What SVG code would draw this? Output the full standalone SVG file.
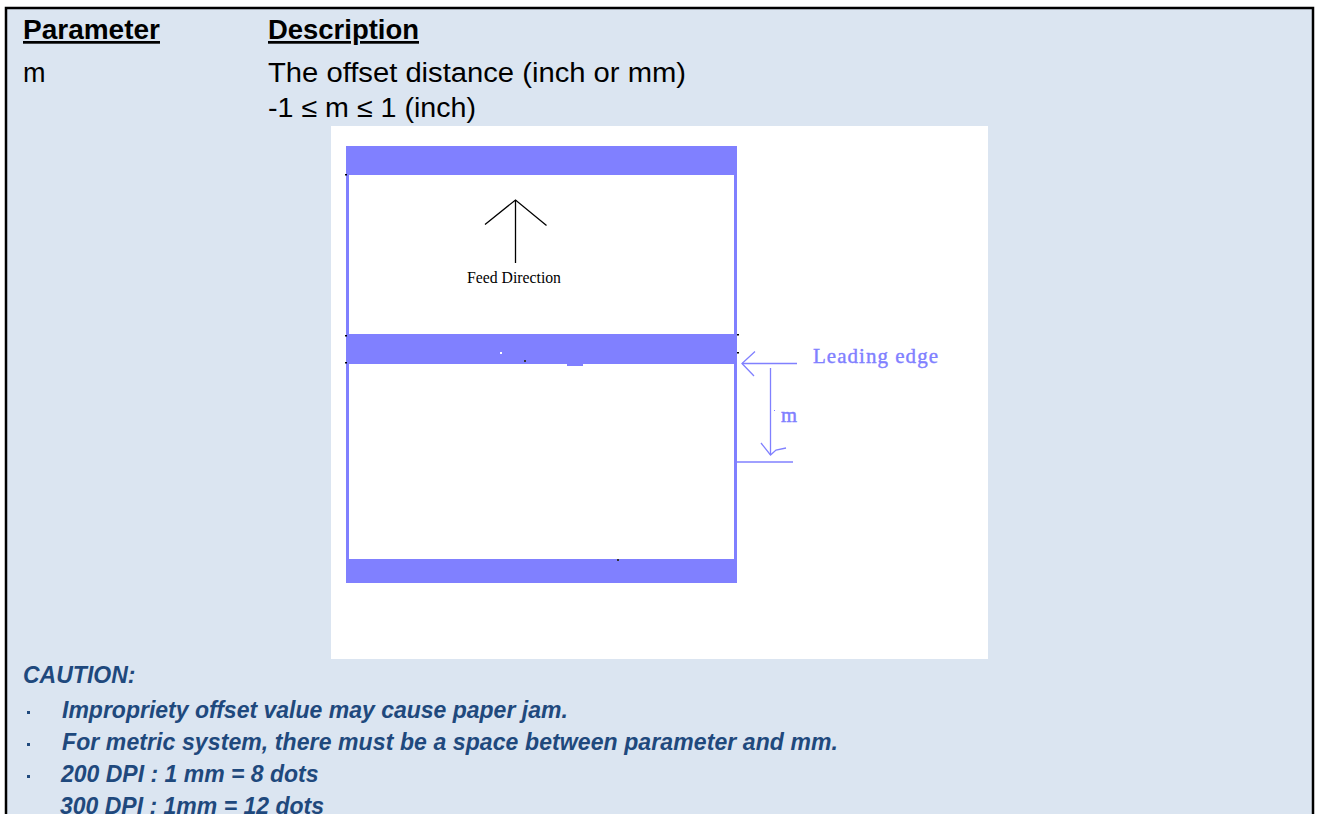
<svg xmlns="http://www.w3.org/2000/svg" width="1317" height="814" viewBox="0 0 1317 814">
<style>
.hdr{font-family:"Liberation Sans",Arial,sans-serif;font-size:27px;fill:#000}
.hb{font-weight:bold;text-decoration:underline}
.cau{font-family:"Liberation Sans",Arial,sans-serif;font-size:23px;font-weight:bold;font-style:italic;fill:#1f497d}
.bl{stroke:#8080ff;fill:none}
.band{fill:#8080ff}
.blk{stroke:#000;fill:none;stroke-width:1.3}
.ser{font-family:"Liberation Serif","Times New Roman",serif}
</style>
<rect x="0" y="0" width="1317" height="814" fill="#fff"/>
<rect x="6" y="8" width="1307" height="830" fill="#dbe5f1" stroke="#000" stroke-width="2.5"/>
<g id="header">
<text class="hdr hb" x="23" y="39" textLength="137" lengthAdjust="spacingAndGlyphs">Parameter</text>
<text class="hdr hb" x="268" y="39" textLength="151" lengthAdjust="spacingAndGlyphs">Description</text>
<text class="hdr" x="23" y="82">m</text>
<text class="hdr" x="268" y="82" textLength="418" lengthAdjust="spacingAndGlyphs">The offset distance (inch or mm)</text>
<text class="hdr" x="268" y="117" textLength="208" lengthAdjust="spacingAndGlyphs">-1 ≤ m ≤ 1 (inch)</text>
</g>
<g id="figure">
<rect x="331" y="126" width="657" height="533" fill="#fff"/>
<g id="paper">
<rect class="band" x="346" y="146" width="391" height="29"/>
<rect class="band" x="346" y="334" width="391" height="30"/>
<rect class="band" x="346" y="559" width="391" height="24"/>
<rect class="band" x="567" y="363" width="16" height="3"/>
<line class="bl" x1="347.5" y1="146" x2="347.5" y2="583" stroke-width="3"/>
<line class="bl" x1="735.5" y1="146" x2="735.5" y2="583" stroke-width="3"/>
<rect x="345" y="174" width="2" height="1.5" fill="#000"/>
<rect x="345" y="335" width="2" height="1.5" fill="#000"/>
<rect x="345" y="362" width="2" height="1.5" fill="#000"/>
<rect x="737" y="334" width="2" height="1.5" fill="#000"/>
<rect x="737" y="352" width="2" height="1.5" fill="#000"/>
<rect x="524" y="360" width="2" height="2" fill="#333"/>
<rect x="500" y="352" width="2" height="2" fill="#fff"/>
<rect x="617" y="559" width="2" height="2" fill="#333"/>
</g>
<g id="feed-direction">
<line class="blk" x1="515.5" y1="200" x2="515.5" y2="263"/>
<polyline class="blk" points="485,224.5 515.5,200 546.5,225.5"/>
<text class="ser" x="467" y="283" font-size="17" fill="#000" textLength="94" lengthAdjust="spacingAndGlyphs">Feed  Direction</text>
</g>
<g id="leading-edge">
<line class="bl" x1="742" y1="363.5" x2="797" y2="363.5" stroke-width="1.3"/>
<polyline class="bl" points="755,351.5 742,363.5 754,376" stroke-width="1.3"/>
<text class="ser" x="813" y="363" font-size="21" fill="#8080ff" stroke="#8080ff" stroke-width="0.4" textLength="125" lengthAdjust="spacing">Leading edge</text>
</g>
<g id="offset-m">
<line class="bl" x1="770.5" y1="368" x2="770.5" y2="455" stroke-width="1.3"/>
<polyline class="bl" points="761,443 770.5,455 776,450 786,448" stroke-width="1.3"/>
<line class="bl" x1="736" y1="462" x2="793" y2="462" stroke-width="1.5"/>
<rect x="774" y="410" width="1" height="1" fill="#8080ff"/>
<text class="ser" x="781" y="422" font-size="21" fill="#8080ff" stroke="#8080ff" stroke-width="0.5" textLength="16" lengthAdjust="spacingAndGlyphs">m</text>
</g>
</g>
<g id="caution">
<text class="cau" x="23" y="683">CAUTION:</text>
<rect x="27" y="711" width="3" height="3" fill="#1f497d"/>
<text class="cau" x="62" y="718">Impropriety offset value may cause paper jam.</text>
<rect x="27" y="743" width="3" height="3" fill="#1f497d"/>
<text class="cau" x="62" y="750" textLength="776" lengthAdjust="spacing">For metric system, there must be a space between parameter and mm.</text>
<rect x="27" y="775" width="3" height="3" fill="#1f497d"/>
<text class="cau" x="61" y="782">200 DPI : 1 mm = 8 dots</text>
<text class="cau" x="60" y="814">300 DPI : 1mm = 12 dots</text>
</g>
</svg>
